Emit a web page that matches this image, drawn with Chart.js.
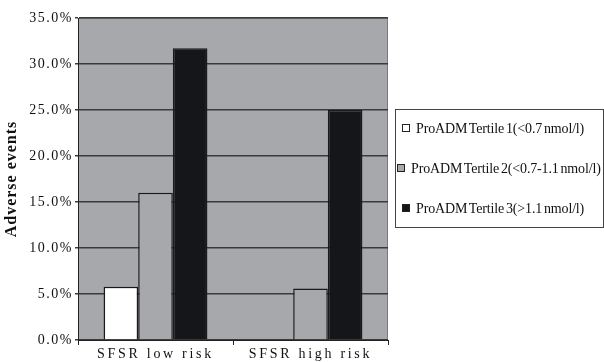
<!DOCTYPE html>
<html>
<head>
<meta charset="utf-8">
<script src="https://cdn.jsdelivr.net/npm/chart.js@4"></script>
<style>
  body { margin: 0; background: #fff; }
  #wrap { position: relative; width: 604px; height: 362px; }
  #legend {
    position: absolute; left: 395px; top: 109px; width: 207px; height: 117px;
    border: 1px solid #444; font-family: "Liberation Serif", serif; font-size: 14px; color: #111;
    letter-spacing: -0.15px; word-spacing: -1.5px;
  }
  #legend div { position: absolute; white-space: nowrap; }
  #legend span.box { display: inline-block; width: 6px; height: 6px; border: 1px solid #222; margin-right: 6px; vertical-align: 1px; }
</style>
</head>
<body>
<div id="wrap">
  <canvas id="adverseChart" width="604" height="362"></canvas>
  <div id="legend"></div>
</div>
<script>
// Adverse events by SFSR risk and ProADM tertile
const categories = ['SFSR low risk', 'SFSR high risk'];
const seriesNames = [
  'ProADM Tertile 1(<0.7 nmol/l)',
  'ProADM Tertile 2(<0.7-1.1 nmol/l)',
  'ProADM Tertile 3(>1.1 nmol/l)'
];
const tertile1 = [0.058, 0];
const tertile2 = [0.160, 0.056];
const tertile3 = [0.317, 0.250];
const barColors = ['#ffffff', '#a7a8ab', '#151619'];

// letter spacing per piece of axis text
function spaced(fn, sp) {
  return function (...args) {
    const c = this.ctx;
    const old = c.letterSpacing;
    c.letterSpacing = sp;
    fn.apply(this, args);
    c.letterSpacing = old;
  };
}

const plotBg = {
  id: 'plotBg',
  afterLayout(chart) {
    const { x, y } = chart.scales;
    if (!y._spaced) {
      y.drawLabels = spaced(y.drawLabels, '1.5px');
      y.drawTitle = spaced(y.drawTitle, '1px');
      x.drawLabels = spaced(x.drawLabels, '2.7px');
      y._spaced = true;
    }
  },
  beforeDraw(chart) {
    const { ctx, chartArea: a } = chart;
    ctx.save();
    ctx.fillStyle = '#a7a8ab';
    ctx.fillRect(a.left, a.top, a.right - a.left, a.bottom - a.top);
    ctx.strokeStyle = '#7a7a7c';
    ctx.lineWidth = 1;
    ctx.strokeRect(a.left + 0.5, a.top + 0.5, a.right - a.left - 1, a.bottom - a.top);
    ctx.restore();
  }
};

const ctx = document.getElementById('adverseChart');
const chart = new Chart(ctx, {
  type: 'bar',
  data: {
    labels: categories,
    datasets: [tertile1, tertile2, tertile3].map((d, i) => ({
      label: seriesNames[i],
      data: d,
      backgroundColor: barColors[i],
      borderColor: '#1a1a1a',
      borderWidth: 1.5,
      categoryPercentage: 0.67,
      barPercentage: 1.0,
    }))
  },
  plugins: [plotBg],
  options: {
    responsive: false,
    animation: false,
    layout: {
      padding: { top: 18, right: 216, left: 0, bottom: 0 },
    },
    plugins: {
      legend: { display: false },
      tooltip: { enabled: false },
    },
    scales: {
      x: {
        grid: { display: true, drawOnChartArea: false, offset: true, color: '#222', tickLength: 5 },
        border: { color: '#222', width: 1 },
        ticks: { color: '#111', font: { family: 'Liberation Serif', size: 14 }, padding: 1 },
        afterFit(scale) { scale.height = 22; },
      },
      y: {
        min: 0,
        max: 0.35,
        ticks: {
          stepSize: 0.05,
          color: '#111',
          padding: 2,
          font: { family: 'Liberation Serif', size: 14 },
          callback: (v) => (v * 100).toFixed(1) + '%',
        },
        grid: { color: '#3a3a3a', lineWidth: 1.5, tickLength: 3 },
        border: { color: '#222', width: 1 },
        title: {
          display: true,
          text: 'Adverse events',
          color: '#111',
          font: { family: 'Liberation Serif', size: 16, weight: 'bold' },
          padding: { top: 2, bottom: 2 },
        },
        afterFit(scale) { scale.width = 78; },
      }
    }
  }
});
chart.update();

// HTML legend built from the chart datasets
const legendEl = document.getElementById('legend');
chart.data.datasets.forEach((ds, i) => {
  const item = document.createElement('div');
  item.style.top = (11 + i * 40) + 'px';
  item.style.left = (i === 1 ? 1 : 6) + 'px';
  const box = document.createElement('span');
  box.className = 'box';
  box.style.background = ds.backgroundColor;
  item.appendChild(box);
  item.appendChild(document.createTextNode(ds.label));
  legendEl.appendChild(item);
});
</script>
</body>
</html>
